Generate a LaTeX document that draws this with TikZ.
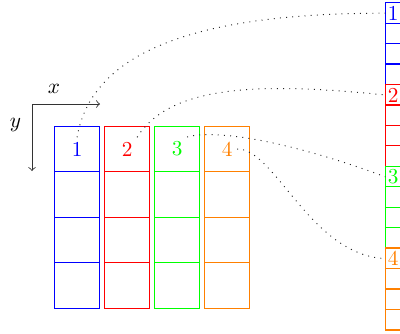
\documentclass[tikz,border=0pt]{standalone}
\begin{document}
\begin{tikzpicture}[x=0.47pt,y=-0.47pt,
  grid/.style={line width=0.6pt},
  lbl/.style={inner sep=2pt},
  rlbl/.style={anchor=west,inner sep=1pt},
  link/.style={black!85,line width=0.45pt,dash pattern=on 0.45pt off 2.45pt},
  axis/.style={->,black!80}]
\useasboundingbox (0,0) rectangle (400,333);
\clip (0,0) rectangle (400,333);
% left columns and right column
\foreach \c/\col [count=\i from 0] in {1/blue,2/red,3/green,4/orange}{
  \pgfmathsetmacro{\xa}{54.3+50*\i}
  \pgfmathsetmacro{\xb}{\xa+45.5}
  \draw[grid,draw=\col] (\xa,126.3) rectangle (\xb,308.3)
    (\xa,171.8) -- (\xb,171.8)
    (\xa,217.2) -- (\xb,217.2)
    (\xa,262.8) -- (\xb,262.8);
  \node[lbl,text=\col] (l\c) at ({\xa+22.8},149) {\c};
  \pgfmathsetmacro{\ya}{2.7+81.8*\i}
  \pgfmathsetmacro{\yb}{\ya+20.45}
  \pgfmathsetmacro{\yc}{\ya+40.9}
  \pgfmathsetmacro{\yd}{\ya+61.35}
  \pgfmathsetmacro{\ye}{\ya+81.8}
  \draw[grid,draw=\col] (385.3,\ya) rectangle (440,\ye)
    (385.3,\yb) -- (440,\yb)
    (385.3,\yc) -- (440,\yc)
    (385.3,\yd) -- (440,\yd);
  \node[rlbl,text=\col] (r\c) at (385.3,{\ya+10.5}) {\c};
}
% axes
\coordinate (o) at (32,104);
\coordinate (xe) at (100,104);
\coordinate (ye) at (32,171);
\draw[axis] (o) -- (xe);
\draw[axis] (o) -- (ye);
\node (xl) at (54,89) {$x$};
\node (yl) at (15.5,125) {$y$};
% links
\draw[link] (l1.north) .. controls (92,50) and (200,13) .. (r1.west);
\draw[link] (l2.north east) .. controls (170,85) and (260,82) .. (r2.west);
\draw[link] (l3.north east) .. controls (220,128) and (300,145) .. (r3.west);
\draw[link] (l4.east) .. controls (275,148) and (310,255) .. (r4.west);
\end{tikzpicture}
\end{document}
